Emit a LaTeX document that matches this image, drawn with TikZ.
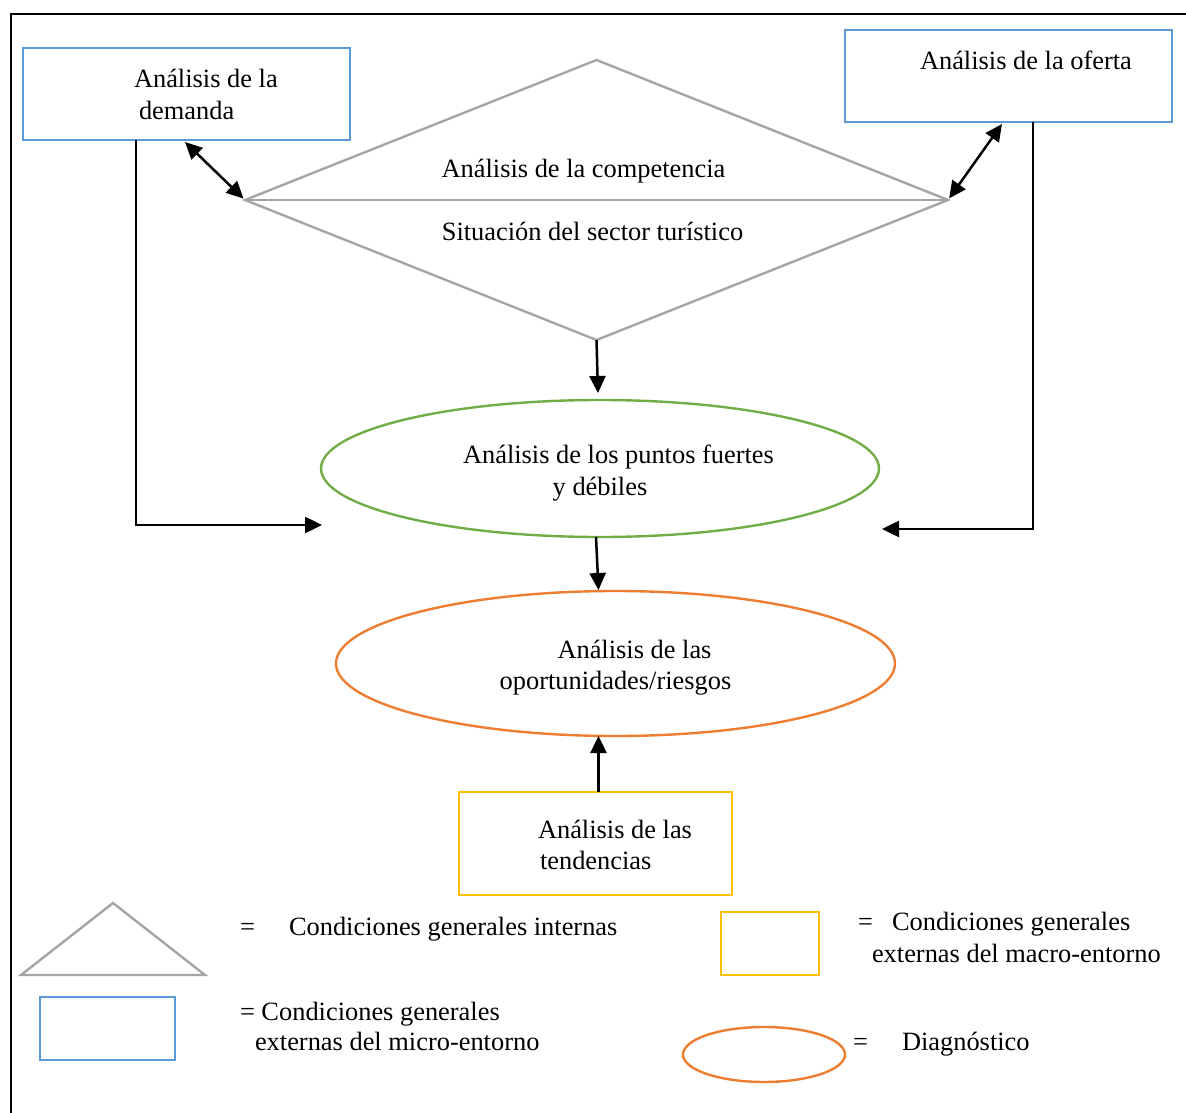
\documentclass[tikz,border=0pt]{standalone}
\usepackage{fontspec}
\setmainfont{Liberation Serif}
\usetikzlibrary{shapes.geometric,arrows.meta,calc}
\definecolor{cblue}{HTML}{5B9BD5}
\definecolor{cgray}{HTML}{A5A5A5}
\definecolor{cgreen}{HTML}{70AD47}
\definecolor{corange}{HTML}{ED7D31}
\definecolor{cyellow}{HTML}{FFC000}
\begin{document}
\begin{tikzpicture}[x=1pt,y=-1pt,
  txt/.style={inner sep=0pt,outer sep=0pt,font=\fontsize{26.4}{32}\selectfont,anchor=base west},
  ctxt/.style={txt,anchor=base},
  shp/.style={line width=2.4pt,inner sep=0pt,outer sep=0pt},
  bluebox/.style={shp,draw=cblue,rectangle},
  yelbox/.style={shp,draw=cyellow,rectangle},
  arr/.style={line width=2.5pt,-{Triangle[length=17pt,width=16pt]}},
  darr/.style={line width=2.5pt,{Triangle[length=17pt,width=16pt]}-{Triangle[length=17pt,width=16pt]}}
]
\useasboundingbox (0,0) rectangle (1186,1113);
% frame
\coordinate (frBL) at (11,1115);
\coordinate (frTL) at (11,14);
\coordinate (frTR) at (1188,14);
\draw[line width=2.4pt] (frBL) -- (frTL) -- (frTR);

% boxes
\node[bluebox,minimum width=327pt,minimum height=92pt] (dem) at (186.5,94) {};
\node[txt] (demA) at (134,88) {Análisis de la};
\node[txt] (demB) at (139,120) {demanda};

\node[bluebox,minimum width=327pt,minimum height=92pt] (ofe) at (1008.5,76) {};
\node[txt] (ofeA) at (920,70) {Análisis de la oferta};

% diamond
\node[shp,draw=cgray,diamond,minimum width=703pt,minimum height=280pt] (comp) at (596.5,200) {};
\draw[cgray,line width=2.4pt] (comp.west) -- (comp.east);
\node[ctxt] (compA) at (583.5,178) {Análisis de la competencia};
\node[ctxt] (compB) at (592.5,240) {Situación del sector turístico};

% ellipses
\node[shp,draw=cgreen,ellipse,minimum width=558pt,minimum height=137pt] (fort) at (600,468.5) {};
\node[ctxt] (fortA) at (618.5,463) {Análisis de los puntos fuertes};
\node[ctxt] (fortB) at (600,495) {y débiles};

\node[shp,draw=corange,ellipse,minimum width=559pt,minimum height=145pt] (opor) at (615.5,663.5) {};
\node[ctxt] (oporA) at (634.5,658) {Análisis de las};
\node[ctxt] (oporB) at (615.5,689) {oportunidades/riesgos};

% tendencias
\node[yelbox,minimum width=273pt,minimum height=103pt] (ten) at (595.5,843.5) {};
\node[txt] (tenA) at (538,838) {Análisis de las};
\node[txt] (tenB) at (540,869) {tendencias};

% connectors
\draw[darr,shorten >=2pt] ($(dem.south west)+(162,2)$) -- (comp.west);
\draw[darr,shorten >=2pt] ($(ofe.south west)+(157,2)$) -- (comp.east);
\draw[arr] (comp.south) -- ($(fort.north)+(-2,-7)$);
\draw[arr] ($(fort.south)+(-4,0)$) -- ($(opor.north)+(-17,-1)$);
\draw[arr] ($(ten.north)+(3,0)$) -- ($(ten.north |- opor.south)+(3,0)$);
\coordinate (demEnd) at (322,525);
\draw[arr] ($(dem.south west)+(113,0)$) |- (demEnd);
\coordinate (ofeEnd) at (882,529);
\draw[arr] ($(ofe.south west)+(188,0)$) |- (ofeEnd);

% legend
\coordinate (triL) at (21,975);
\coordinate (triT) at (113,903);
\coordinate (triR) at (205,975);
\draw[cgray,line width=2.4pt,line join=miter] (triL) -- (triT) -- (triR) -- cycle;
\node[txt] (eq1) at (240,935) {=};
\node[txt] (lg1) at (289,935) {Condiciones generales internas};

\node[bluebox,minimum width=135pt,minimum height=63pt] (legB) at (107.5,1028.5) {};
\node[txt] (lg2a) at (240,1020) {= Condiciones generales};
\node[txt] (lg2b) at (255,1050) {externas del micro-entorno};

\node[yelbox,minimum width=98pt,minimum height=63pt] (legY) at (770,943.5) {};
\node[txt] (eq3) at (858,930) {=};
\node[txt] (lg3a) at (892,930) {Condiciones generales};
\node[txt] (lg3b) at (872,962) {externas del macro-entorno};

\node[shp,draw=corange,ellipse,minimum width=162pt,minimum height=55pt] (legO) at (764,1054.5) {};
\node[txt] (eq4) at (853,1050) {=};
\node[txt] (lg4) at (902,1050) {Diagnóstico};
\end{tikzpicture}
\end{document}
